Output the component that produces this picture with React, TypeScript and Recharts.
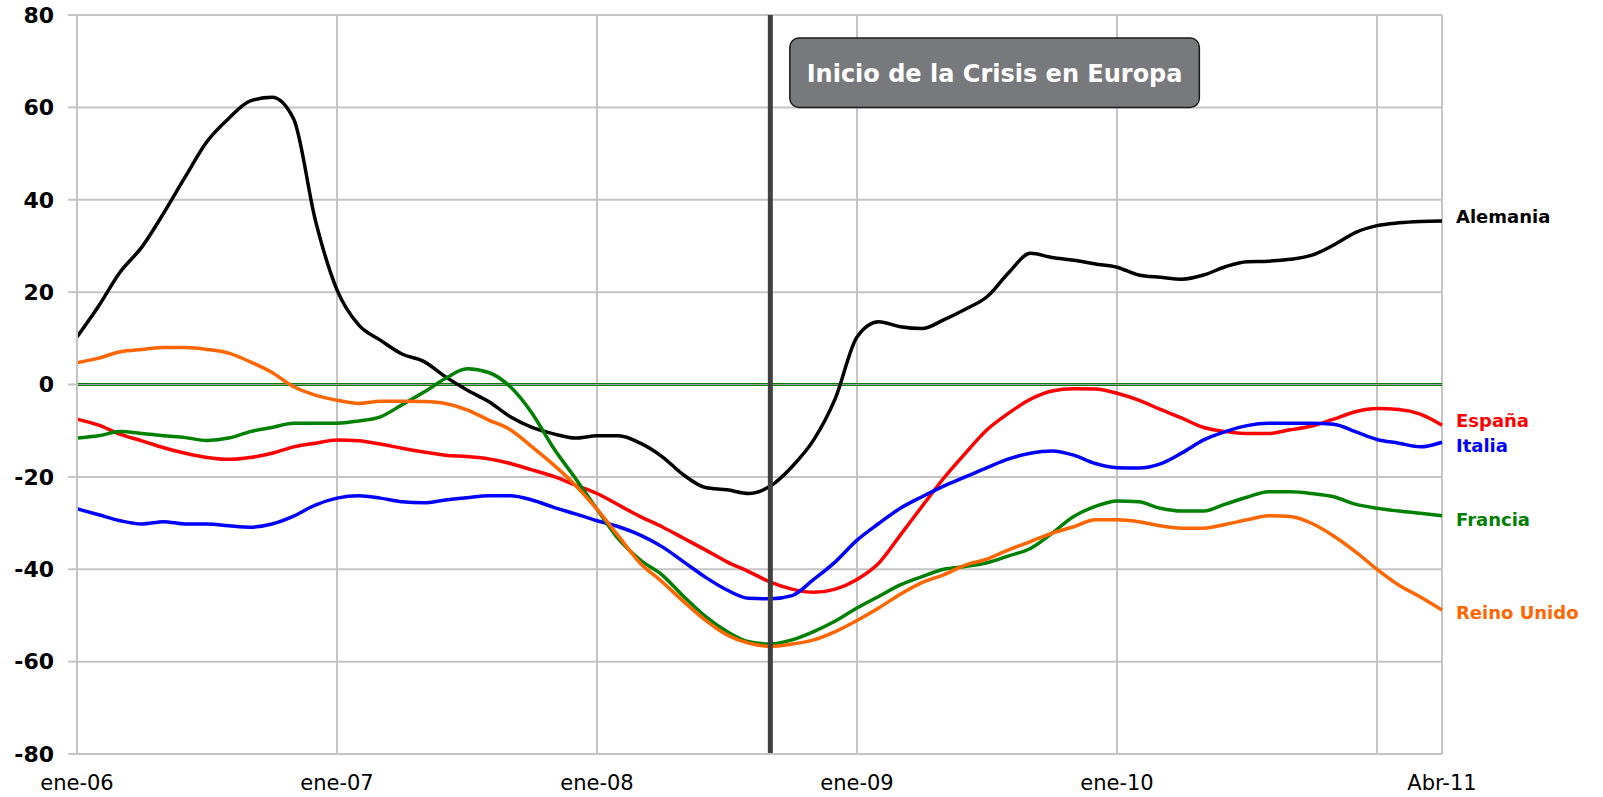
import {
  LineChart,
  Line,
  XAxis,
  YAxis,
  CartesianGrid,
  ReferenceLine,
  ReferenceArea,
} from "recharts";

// month index 0 = ene-06 ... 63 = Abr-11
const tickIndex = [0, 12, 24, 36, 48, 60, 63];
const tickLabels = ["ene-06", "ene-07", "ene-08", "ene-09", "ene-10", "", "Abr-11"];
const yTicks = [-80, -60, -40, -20, 0, 20, 40, 60, 80];

const alemania = [
  10.3, 17, 24.4, 29.8, 37.1, 45, 52.6, 57.6, 61.4, 62.2, 57.5, 35.6, 20.5, 12.9, 9.6, 6.6,
  5, 1.7, -1.2, -3.7, -7, -9.3, -10.7, -11.6, -11.1, -11.1, -12.7, -15.6, -19.6, -22.3, -22.8, -23.6,
  -22, -17.8, -12, -3, 10.3, 13.6, 12.5, 12.1, 14, 16.3, 19, 24.2, 28.4, 27.5, 26.9, 26.1,
  25.4, 23.7, 23.2, 22.8, 23.7, 25.5, 26.6, 26.7, 27.1, 28, 30.2, 32.9, 34.4, 35, 35.3, 35.4,
];
const espana = [
  -7.5, -8.8, -10.8, -12.2, -13.7, -14.9, -15.8, -16.2, -15.8, -14.9, -13.5, -12.7, -12, -12.2, -12.9, -13.8,
  -14.6, -15.3, -15.6, -16.1, -17.1, -18.5, -19.9, -21.8, -23.6, -26.1, -28.6, -30.8, -33.3, -35.8, -38.4, -40.5,
  -42.8, -44.3, -45, -44.3, -42.2, -38.7, -32.6, -26.4, -20.3, -14.9, -9.8, -6.2, -3.2, -1.4, -0.9, -1,
  -1.9, -3.4, -5.4, -7.3, -9.3, -10.2, -10.6, -10.6, -9.8, -9, -7.5, -5.9, -5.2, -5.4, -6.4, -8.8,
];
const italia = [
  -26.9, -28.2, -29.5, -30.2, -29.7, -30.2, -30.2, -30.6, -30.9, -30.2, -28.5, -26.1, -24.6, -24.1, -24.6, -25.4,
  -25.6, -25, -24.5, -24.1, -24.1, -25, -26.6, -28, -29.5, -30.8, -32.6, -35.1, -38.4, -41.7, -44.5, -46.3,
  -46.4, -45.7, -42.2, -38.4, -33.7, -30.1, -26.8, -24.3, -22, -20, -18, -16.1, -14.9, -14.4, -15.3, -17.1,
  -18, -18.1, -17.2, -14.8, -12, -10.2, -8.9, -8.4, -8.4, -8.4, -8.6, -10.2, -11.9, -12.7, -13.5, -12.5,
];
const francia = [
  -11.6, -11.1, -10.2, -10.6, -11.1, -11.5, -12.1, -11.6, -10.2, -9.3, -8.4, -8.4, -8.4, -7.9, -7, -4.4,
  -1.7, 1.3, 3.4, 2.6, -0.5, -6.2, -13.8, -20.3, -27, -33.5, -38, -41.2, -45.9, -50.2, -53.5, -55.7,
  -56.2, -55.3, -53.5, -51.2, -48.4, -45.9, -43.4, -41.6, -40, -39.4, -38.6, -37.1, -35.5, -32.2, -28.6, -26.4,
  -25.2, -25.4, -26.8, -27.4, -27.4, -25.9, -24.4, -23.2, -23.2, -23.6, -24.3, -25.9, -26.8, -27.4, -27.9, -28.4,
];
const reinoUnido = [
  4.7, 5.7, 7.1, 7.6, 8, 8, 7.6, 6.8, 4.9, 2.6, -0.5, -2.3, -3.4, -4.1, -3.6, -3.6,
  -3.7, -4.1, -5.5, -7.7, -9.8, -13.5, -17.4, -21.8, -27, -32.9, -38.7, -42.7, -47, -51, -54.2, -56,
  -56.7, -56.2, -55.3, -53.5, -51.1, -48.4, -45.4, -42.9, -41.2, -39.1, -37.8, -35.8, -34, -32.2, -30.8, -29.3,
  -29.3, -29.7, -30.6, -31.1, -31.1, -30.3, -29.3, -28.4, -28.6, -30.1, -32.8, -36.2, -40, -43.4, -46, -48.8,
];

const CRISIS_MONTH = 32; // sep-08

const series = [
  { key: "alemania", name: "Alemania", color: "#000000", dy: -4 },
  { key: "espana", name: "España", color: "#ff0000", dy: -5 },
  { key: "italia", name: "Italia", color: "#0000ff", dy: 3 },
  { key: "francia", name: "Francia", color: "#008000", dy: 4 },
  { key: "reinoUnido", name: "Reino Unido", color: "#ff6600", dy: 3 },
];

const data = alemania.map((_, i) => ({
  i,
  alemania: alemania[i],
  espana: espana[i],
  italia: italia[i],
  francia: francia[i],
  reinoUnido: reinoUnido[i],
}));

const FONT = "'DejaVu Sans', Verdana, sans-serif";
const GRID = "#c4c4c4";

function endLabel(name: string, color: string, dy: number) {
  return (props: any) => {
    const { cx, cy, index } = props;
    if (index !== data.length - 1) return <g key={`d-${name}-${index}`} />;
    return (
      <text
        key={`d-${name}-${index}`}
        x={cx + 14}
        y={cy + dy}
        fill={color}
        fontSize={18}
        fontWeight="bold"
        fontFamily={FONT}
        dominantBaseline="central"
      >
        {name}
      </text>
    );
  };
}

export default function App() {
  return (
    <div style={{ position: "absolute", left: 0, top: 0, background: "#fff" }}>
      <LineChart
        width={1603}
        height={797}
        data={data}
        margin={{ top: 15, right: 161, left: 0, bottom: 0 }}
      >
        <CartesianGrid stroke={GRID} strokeWidth={2} />
        <XAxis
          dataKey="i"
          type="number"
          domain={[0, 63]}
          ticks={tickIndex}
          interval={0}
          tickFormatter={(v: number) => tickLabels[tickIndex.indexOf(v)] ?? ""}
          height={43}
          tickLine={false}
          tickSize={10}
          tickMargin={11}
          axisLine={{ stroke: GRID, strokeWidth: 2 }}
          tick={{ fontSize: 21, fill: "#000", fontFamily: FONT }}
        />
        <YAxis
          type="number"
          domain={[-80, 80]}
          ticks={yTicks}
          interval={0}
          width={77}
          tickSize={9}
          tickMargin={14}
          tickLine={{ stroke: GRID, strokeWidth: 2 }}
          axisLine={{ stroke: GRID, strokeWidth: 2 }}
          tick={{ fontSize: 22, fill: "#000", fontWeight: "bold", fontFamily: FONT }}
        />
        <ReferenceLine y={0} stroke="#008000" strokeWidth={3} />
        <ReferenceLine y={0} stroke="#9a9a9a" strokeWidth={1} />
        {series.map((s) => (
          <Line
            key={s.key}
            dataKey={s.key}
            name={s.name}
            type="monotone"
            stroke={s.color}
            strokeWidth={3.5}
            dot={endLabel(s.name, s.color, s.dy)}
            activeDot={false}
            isAnimationActive={false}
          />
        ))}
        <ReferenceLine x={CRISIS_MONTH} stroke="#404040" strokeWidth={5} />
        <ReferenceArea
          x1={32.9}
          x2={51.8}
          y1={60}
          y2={75}
          shape={(p: any) => (
            <g>
              <rect
                x={p.x}
                y={p.y}
                width={p.width}
                height={p.height}
                rx={9}
                ry={9}
                fill="#78797c"
                stroke="#1a1a1a"
                strokeWidth={1.5}
              />
              <text
                x={p.x + p.width / 2}
                y={p.y + p.height / 2 + 1}
                textAnchor="middle"
                dominantBaseline="central"
                fill="#ffffff"
                fontSize={24}
                fontWeight="bold"
                fontFamily={FONT}
              >
                Inicio de la Crisis en Europa
              </text>
            </g>
          )}
        />
      </LineChart>
    </div>
  );
}
